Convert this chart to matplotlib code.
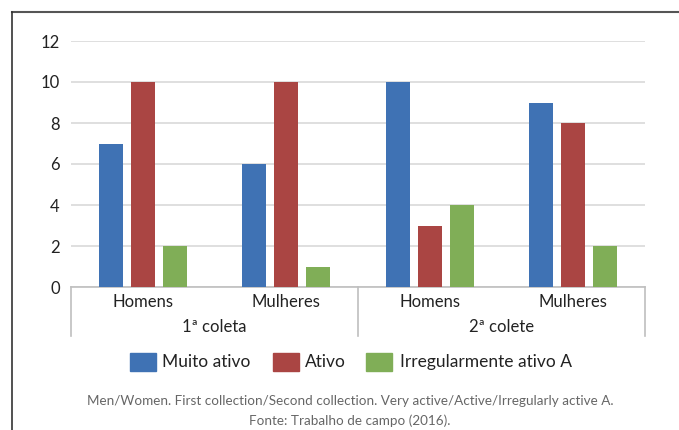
import matplotlib.pyplot as plt
from matplotlib.patches import Rectangle
from matplotlib.lines import Line2D

plt.rcParams['font.family'] = ['Lato', 'DejaVu Sans']

# data
groups = ['1ª coleta', '2ª colete']
sexes = ['Homens', 'Mulheres', 'Homens', 'Mulheres']
series = ['Muito ativo', 'Ativo', 'Irregularmente ativo A']
muito_ativo = [7, 6, 10, 9]
ativo = [10, 10, 3, 8]
irregular = [2, 1, 4, 2]
colors = ['#3F72B4', '#AA4543', '#80AE57']

W, H = 679, 430
fig = plt.figure(figsize=(W / 100, H / 100), dpi=100)

def fx(px):
    return px / W

def fy(py):
    return 1 - py / H

ax = fig.add_axes([fx(71), fy(287), fx(645) - fx(71), fy(41) - fy(287)])

x = range(len(sexes))
step, width = 0.223, 0.167
for i, vals in enumerate([muito_ativo, ativo, irregular]):
    ax.bar([k + (i - 1) * step for k in x], vals, width=width, color=colors[i],
           label=series[i], zorder=3)

ax.set_xlim(-0.5, 3.5)
ax.set_ylim(0, 12)
ax.set_yticks(range(0, 13, 2))
ax.yaxis.grid(True, color='#D9D9D9', linewidth=1.2, zorder=0)
for s in ['top', 'right', 'left']:
    ax.spines[s].set_visible(False)
ax.spines['bottom'].set_color('#BFBFBF')
ax.spines['bottom'].set_linewidth(1.2)
ax.set_xticks([])
ax.tick_params(axis='y', length=0, labelsize=12, pad=8, labelcolor='#222222')

# category labels under the axis
for k, name in enumerate(sexes):
    fig.text(fx(71 + 143.5 * (k + 0.5)), fy(302), name, ha='center', va='center',
             fontsize=12, color='#222222')
for g, name in enumerate(groups):
    fig.text(fx(71 + 287 * (g + 0.5)), fy(327), name, ha='center', va='center',
             fontsize=12, color='#222222')
for px in [71, 358, 645]:
    fig.add_artist(Line2D([fx(px), fx(px)], [fy(287), fy(336)], color='#BFBFBF', lw=1.2))

# legend
legend_items = [(130, 162, series[0]), (273, 305, series[1]), (366, 400, series[2])]
for (bx, tx, name), c in zip(legend_items, colors):
    fig.add_artist(Rectangle((fx(bx), fy(371)), fx(26), fy(353) - fy(371), color=c,
                             transform=fig.transFigure))
    fig.text(fx(tx), fy(362), name, ha='left', va='center', fontsize=12.5, color='#222222')

fig.text(fx(350), fy(401), 'Men/Women. First collection/Second collection. Very active/Active/Irregularly active A.',
         ha='center', va='center', fontsize=9.7, color='#666666')
fig.text(fx(350), fy(421), 'Fonte: Trabalho de campo (2016).',
         ha='center', va='center', fontsize=9.7, color='#666666')

# frame
fig.add_artist(Line2D([fx(12), 1], [fy(12), fy(12)], color='#555555', lw=1.5))
fig.add_artist(Line2D([fx(12), fx(12)], [fy(12), 0], color='#333333', lw=1.2))

fig.savefig('out.png', dpi=100)
